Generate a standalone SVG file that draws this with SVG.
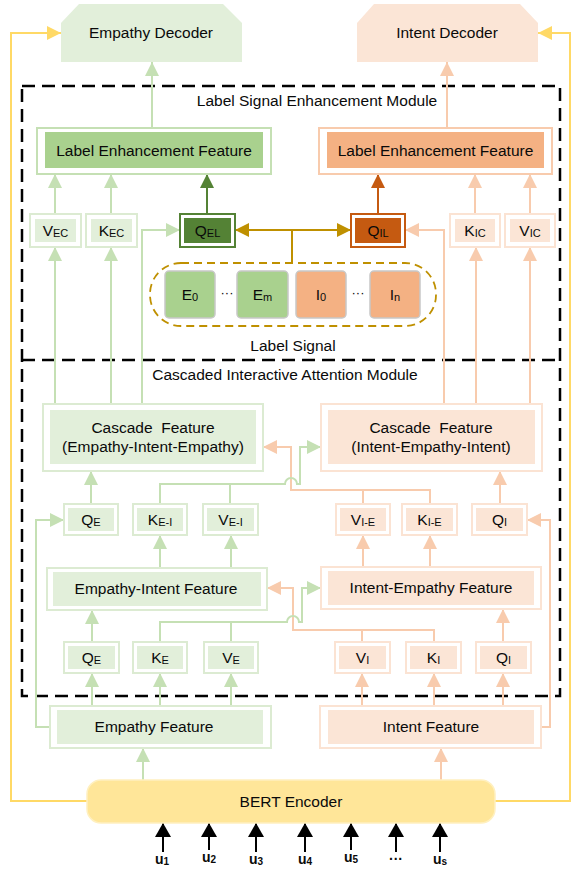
<svg xmlns="http://www.w3.org/2000/svg" width="573" height="869" viewBox="0 0 573 869">
<defs>
<style>
text{font-family:"Liberation Sans",Arial,sans-serif;font-size:15.5px;fill:#0a0a0a;text-anchor:middle}
.sub{font-size:11px}
.gl{fill:none;stroke:#c5e0b4;stroke-width:2}
.ol{fill:none;stroke:#f8cbad;stroke-width:2}
.go{fill:#fff;stroke:#dcebd2;stroke-width:2}
.gi{fill:#e2efda}
.oo{fill:#fff;stroke:#fbe3d3;stroke-width:2}
.oi{fill:#fbe5d6}
.dash{fill:none;stroke:#000;stroke-width:2.5;stroke-dasharray:13 7}
.u{font-size:14px;font-weight:bold}
.us{font-size:10px;font-weight:bold}
</style>
<marker id="ag" viewBox="0 0 14 14" refX="14" refY="7" markerWidth="14" markerHeight="14" orient="auto" markerUnits="userSpaceOnUse"><path d="M0,0 L14,7 L0,14 z" fill="#c5e0b4"/></marker>
<marker id="ao" viewBox="0 0 14 14" refX="14" refY="7" markerWidth="14" markerHeight="14" orient="auto" markerUnits="userSpaceOnUse"><path d="M0,0 L14,7 L0,14 z" fill="#f8cbad"/></marker>
<marker id="adg" viewBox="0 0 14 14" refX="14" refY="7" markerWidth="14" markerHeight="14" orient="auto" markerUnits="userSpaceOnUse"><path d="M0,0 L14,7 L0,14 z" fill="#548235"/></marker>
<marker id="ado" viewBox="0 0 14 14" refX="14" refY="7" markerWidth="14" markerHeight="14" orient="auto" markerUnits="userSpaceOnUse"><path d="M0,0 L14,7 L0,14 z" fill="#c55a11"/></marker>
<marker id="agd" viewBox="0 0 14 14" refX="14" refY="7" markerWidth="14" markerHeight="14" orient="auto" markerUnits="userSpaceOnUse"><path d="M0,0 L14,7 L0,14 z" fill="#bf9000"/></marker>
<marker id="ay" viewBox="0 0 14 14" refX="14" refY="7" markerWidth="14" markerHeight="14" orient="auto" markerUnits="userSpaceOnUse"><path d="M0,0 L14,7 L0,14 z" fill="#ffd966"/></marker>
<marker id="ak" viewBox="0 0 14 16" refX="14" refY="8" markerWidth="14" markerHeight="16" orient="auto" markerUnits="userSpaceOnUse"><path d="M0,0 L14,8 L0,16 z" fill="#000"/></marker>
</defs>

<!-- module frames -->
<g id="modules">
<rect class="dash" x="22" y="86" width="538" height="610"/>
<line class="dash" x1="22" y1="360" x2="560" y2="360"/>
<text x="317" y="106">Label Signal Enhancement Module</text>
<text x="285" y="380">Cascaded Interactive Attention Module</text>
</g>

<g id="connectors">
<!-- yellow encoder to decoders -->
<path d="M87,801 H11 V33 H61" fill="none" stroke="#ffd966" stroke-width="2" marker-end="url(#ay)"/>
<path d="M495,801 H570 V33 H538" fill="none" stroke="#ffd966" stroke-width="2" marker-end="url(#ay)"/>
<!-- LEF to decoders -->
<path class="gl" d="M152,128 V62" marker-end="url(#ag)"/>
<path class="ol" d="M447,128 V62" marker-end="url(#ao)"/>
<!-- V/K/Q to LEF -->
<path class="gl" d="M55,214 V174" marker-end="url(#ag)"/>
<path class="gl" d="M111,214 V174" marker-end="url(#ag)"/>
<path d="M207,214 V174" fill="none" stroke="#548235" stroke-width="2" marker-end="url(#adg)"/>
<path d="M378,214 V174" fill="none" stroke="#c55a11" stroke-width="2" marker-end="url(#ado)"/>
<path class="ol" d="M475,214 V174" marker-end="url(#ao)"/>
<path class="ol" d="M530,214 V174" marker-end="url(#ao)"/>
<!-- cascade to VEC/KEC/QEL -->
<path class="gl" d="M55,404 V247" marker-end="url(#ag)"/>
<path class="gl" d="M111,404 V247" marker-end="url(#ag)"/>
<path class="gl" d="M142,404 V230 H180" marker-end="url(#ag)"/>
<path class="ol" d="M476,404 V247" marker-end="url(#ao)"/>
<path class="ol" d="M530,404 V247" marker-end="url(#ao)"/>
<path class="ol" d="M444,404 V230 H405" marker-end="url(#ao)"/>
<!-- label signal -->
<path d="M292,230 H235" fill="none" stroke="#bf9000" stroke-width="2" marker-end="url(#agd)"/>
<path d="M292,230 H351" fill="none" stroke="#bf9000" stroke-width="2" marker-end="url(#agd)"/>
<path d="M292,230 V263" fill="none" stroke="#bf9000" stroke-width="2"/>
<!-- upper row to cascade -->
<path class="gl" d="M91,504 V471" marker-end="url(#ag)"/>
<path class="ol" d="M500,504 V471" marker-end="url(#ao)"/>
<path class="gl" d="M50,727 H36 V520 H64" marker-end="url(#ag)"/>
<path class="ol" d="M541,727 H550 V520 H527" marker-end="url(#ao)"/>
<path class="ol" d="M430,504 V490 H291 V447 H263" marker-end="url(#ao)"/>
<path class="ol" d="M363,504 V490"/>
<path class="gl" d="M160,504 V484 H285 A6,6 0 0 1 297,484 H300 V447 H321" marker-end="url(#ag)"/>
<path class="gl" d="M230,504 V484"/>
<!-- middle features to upper row -->
<path class="gl" d="M160,568 V535" marker-end="url(#ag)"/>
<path class="gl" d="M231,568 V535" marker-end="url(#ag)"/>
<path class="ol" d="M363,567 V535" marker-end="url(#ao)"/>
<path class="ol" d="M430,567 V535" marker-end="url(#ao)"/>
<!-- lower row to middle features -->
<path class="gl" d="M92,642 V610" marker-end="url(#ag)"/>
<path class="ol" d="M503,642 V609" marker-end="url(#ao)"/>
<path class="ol" d="M434,642 V630 H293 V588 H267" marker-end="url(#ao)"/>
<path class="ol" d="M362,642 V630"/>
<path class="gl" d="M160,642 V622 H287 A6,6 0 0 1 299,622 H302 V588 H321" marker-end="url(#ag)"/>
<path class="gl" d="M231,642 V622"/>
<!-- base features to lower row -->
<path class="gl" d="M92,706 V673" marker-end="url(#ag)"/>
<path class="gl" d="M160,706 V673" marker-end="url(#ag)"/>
<path class="gl" d="M231,706 V673" marker-end="url(#ag)"/>
<path class="ol" d="M362,706 V673" marker-end="url(#ao)"/>
<path class="ol" d="M434,706 V673" marker-end="url(#ao)"/>
<path class="ol" d="M503,706 V673" marker-end="url(#ao)"/>
<!-- BERT to features -->
<path class="gl" d="M143,780 V748" marker-end="url(#ag)"/>
<path class="ol" d="M441,780 V748" marker-end="url(#ao)"/>
<!-- inputs -->
<path d="M163,852 V823" stroke="#000" stroke-width="2" marker-end="url(#ak)"/>
<path d="M209,850 V823" stroke="#000" stroke-width="2" marker-end="url(#ak)"/>
<path d="M256,852 V823" stroke="#000" stroke-width="2" marker-end="url(#ak)"/>
<path d="M305,852 V823" stroke="#000" stroke-width="2" marker-end="url(#ak)"/>
<path d="M351,850 V823" stroke="#000" stroke-width="2" marker-end="url(#ak)"/>
<path d="M396,852 V823" stroke="#000" stroke-width="2" marker-end="url(#ak)"/>
<path d="M440,852 V823" stroke="#000" stroke-width="2" marker-end="url(#ak)"/>
</g>

<!-- decoders -->
<g id="empathy-decoder"><polygon points="79,4 223,4 242,23 242,62 61,62 61,23" fill="#e2efda"/><text x="151" y="38">Empathy Decoder</text></g>
<g id="intent-decoder"><polygon points="374,4 520,4 538,23 538,62 357,62 357,23" fill="#fbe5d6"/><text x="447" y="38">Intent Decoder</text></g>

<!-- label enhancement features -->
<g id="lef-e"><rect x="37" y="128" width="234" height="46" fill="#fff" stroke="#c5e0b4" stroke-width="2"/><rect x="45" y="132" width="218" height="36" fill="#a9d18e"/><text x="154" y="156">Label Enhancement Feature</text></g>
<g id="lef-i"><rect x="319" y="128" width="233" height="46" fill="#fff" stroke="#f8cbad" stroke-width="2"/><rect x="327" y="132" width="217" height="36" fill="#f4b183"/><text x="435.5" y="156">Label Enhancement Feature</text></g>

<g id="v-ec"><rect class="go" x="30" y="214" width="51" height="33"/><rect class="gi" x="35" y="219" width="41" height="23"/><text x="55.5" y="235.5">V<tspan class="sub" dy="1">EC</tspan></text></g>
<g id="k-ec"><rect class="go" x="86" y="214" width="51" height="33"/><rect class="gi" x="91" y="219" width="41" height="23"/><text x="111.5" y="235.5">K<tspan class="sub" dy="1">EC</tspan></text></g>
<g id="q-el"><rect x="180" y="214" width="55" height="33" fill="#fff" stroke="#548235" stroke-width="2"/><rect x="184" y="218" width="47" height="25" fill="#548235"/><text x="207.5" y="235.5">Q<tspan class="sub" dy="1">EL</tspan></text></g>
<g id="q-il"><rect x="351" y="214" width="54" height="33" fill="#fff" stroke="#c55a11" stroke-width="2"/><rect x="355" y="218" width="46" height="25" fill="#c55a11"/><text x="378" y="235.5">Q<tspan class="sub" dy="1">IL</tspan></text></g>
<g id="k-ic"><rect class="oo" x="450" y="214" width="50" height="33"/><rect class="oi" x="455" y="219" width="40" height="23"/><text x="475" y="235.5">K<tspan class="sub" dy="1">IC</tspan></text></g>
<g id="v-ic"><rect class="oo" x="505" y="214" width="50" height="33"/><rect class="oi" x="510" y="219" width="40" height="23"/><text x="530" y="235.5">V<tspan class="sub" dy="1">IC</tspan></text></g>

<!-- label signal -->
<g id="label-signal">
<rect x="150" y="263" width="286" height="63" rx="31" fill="none" stroke="#bf9000" stroke-width="1.8" stroke-dasharray="8 5"/>
<rect x="165" y="271" width="50" height="47" rx="4" fill="#a9d18e" stroke="#c8c8c8" stroke-width="1.5"/><text x="190" y="300">E<tspan class="sub" dy="1">0</tspan></text>
<text x="227" y="297" style="font-size:13px">···</text>
<rect x="237" y="271" width="51" height="47" rx="4" fill="#a9d18e" stroke="#c8c8c8" stroke-width="1.5"/><text x="262.5" y="300">E<tspan class="sub" dy="1">m</tspan></text>
<rect x="296" y="271" width="50" height="47" rx="4" fill="#f4b183" stroke="#c8c8c8" stroke-width="1.5"/><text x="321" y="300">I<tspan class="sub" dy="1">0</tspan></text>
<text x="358" y="297" style="font-size:13px">···</text>
<rect x="370" y="271" width="50" height="47" rx="4" fill="#f4b183" stroke="#c8c8c8" stroke-width="1.5"/><text x="395" y="300">I<tspan class="sub" dy="1">n</tspan></text>
<text x="293" y="351">Label Signal</text>
</g>

<!-- cascade features -->
<g id="cascade-e"><rect class="go" x="43" y="404" width="220" height="67"/><rect class="gi" x="50" y="410" width="206" height="54"/><text x="153" y="433" xml:space="preserve">Cascade  Feature</text><text x="153" y="452">(Empathy-Intent-Empathy)</text></g>
<g id="cascade-i"><rect class="oo" x="321" y="404" width="221" height="67"/><rect class="oi" x="328" y="410" width="207" height="54"/><text x="431" y="433" xml:space="preserve">Cascade  Feature</text><text x="431" y="452">(Intent-Empathy-Intent)</text></g>

<!-- upper row -->
<g id="q-e2"><rect class="go" x="64" y="504" width="54" height="31"/><rect class="gi" x="68" y="508" width="46" height="23"/><text x="91" y="525">Q<tspan class="sub" dy="1">E</tspan></text></g>
<g id="k-ei"><rect class="go" x="133" y="504" width="54" height="31"/><rect class="gi" x="137" y="508" width="46" height="23"/><text x="160" y="525">K<tspan class="sub" dy="1">E-I</tspan></text></g>
<g id="v-ei"><rect class="go" x="203" y="504" width="55" height="31"/><rect class="gi" x="207" y="508" width="47" height="23"/><text x="230.5" y="525">V<tspan class="sub" dy="1">E-I</tspan></text></g>
<g id="v-ie"><rect class="oo" x="336" y="504" width="54" height="31"/><rect class="oi" x="340" y="508" width="46" height="23"/><text x="363" y="525">V<tspan class="sub" dy="1">I-E</tspan></text></g>
<g id="k-ie"><rect class="oo" x="402" y="504" width="55" height="31"/><rect class="oi" x="406" y="508" width="47" height="23"/><text x="429.5" y="525">K<tspan class="sub" dy="1">I-E</tspan></text></g>
<g id="q-i2"><rect class="oo" x="472" y="504" width="55" height="31"/><rect class="oi" x="476" y="508" width="47" height="23"/><text x="499.5" y="525">Q<tspan class="sub" dy="1">I</tspan></text></g>

<!-- middle features -->
<g id="ei-feature"><rect class="go" x="47" y="568" width="220" height="42"/><rect class="gi" x="53" y="572" width="208" height="34"/><text x="156" y="594">Empathy-Intent Feature</text></g>
<g id="ie-feature"><rect class="oo" x="321" y="567" width="220" height="42"/><rect class="oi" x="328" y="571" width="206" height="34"/><text x="431" y="593">Intent-Empathy Feature</text></g>

<!-- lower row -->
<g id="q-e"><rect class="go" x="64" y="642" width="55" height="31"/><rect class="gi" x="68" y="646" width="47" height="23"/><text x="91.5" y="663">Q<tspan class="sub" dy="1">E</tspan></text></g>
<g id="k-e"><rect class="go" x="133" y="642" width="54" height="31"/><rect class="gi" x="137" y="646" width="46" height="23"/><text x="160" y="663">K<tspan class="sub" dy="1">E</tspan></text></g>
<g id="v-e"><rect class="go" x="204" y="642" width="54" height="31"/><rect class="gi" x="208" y="646" width="46" height="23"/><text x="231" y="663">V<tspan class="sub" dy="1">E</tspan></text></g>
<g id="v-i"><rect class="oo" x="335" y="642" width="55" height="31"/><rect class="oi" x="339" y="646" width="47" height="23"/><text x="362.5" y="663">V<tspan class="sub" dy="1">I</tspan></text></g>
<g id="k-i"><rect class="oo" x="406" y="642" width="55" height="31"/><rect class="oi" x="410" y="646" width="47" height="23"/><text x="433.5" y="663">K<tspan class="sub" dy="1">I</tspan></text></g>
<g id="q-i"><rect class="oo" x="476" y="642" width="55" height="31"/><rect class="oi" x="480" y="646" width="47" height="23"/><text x="503.5" y="663">Q<tspan class="sub" dy="1">I</tspan></text></g>

<!-- base features -->
<g id="empathy-feature"><rect class="go" x="50" y="706" width="221" height="42"/><rect class="gi" x="57" y="710" width="206" height="34"/><text x="154" y="732">Empathy Feature</text></g>
<g id="intent-feature"><rect class="oo" x="320" y="706" width="221" height="42"/><rect class="oi" x="328" y="710" width="206" height="34"/><text x="431" y="732">Intent Feature</text></g>

<g id="bert"><rect x="87" y="780" width="408" height="43" rx="14" fill="#ffe699" stroke="#fff0c0" stroke-width="1.5"/><text x="291" y="807">BERT Encoder</text></g>

<g id="inputs">
<text class="u" x="162" y="864">u<tspan class="us" dy="1">1</tspan></text>
<text class="u" x="209" y="862">u<tspan class="us" dy="1">2</tspan></text>
<text class="u" x="256" y="864">u<tspan class="us" dy="1">3</tspan></text>
<text class="u" x="305" y="864">u<tspan class="us" dy="1">4</tspan></text>
<text class="u" x="351" y="862">u<tspan class="us" dy="1">5</tspan></text>
<text class="u" x="396" y="864">···</text>
<text class="u" x="440" y="864">u<tspan class="us" dy="1">s</tspan></text>
</g>
</svg>
